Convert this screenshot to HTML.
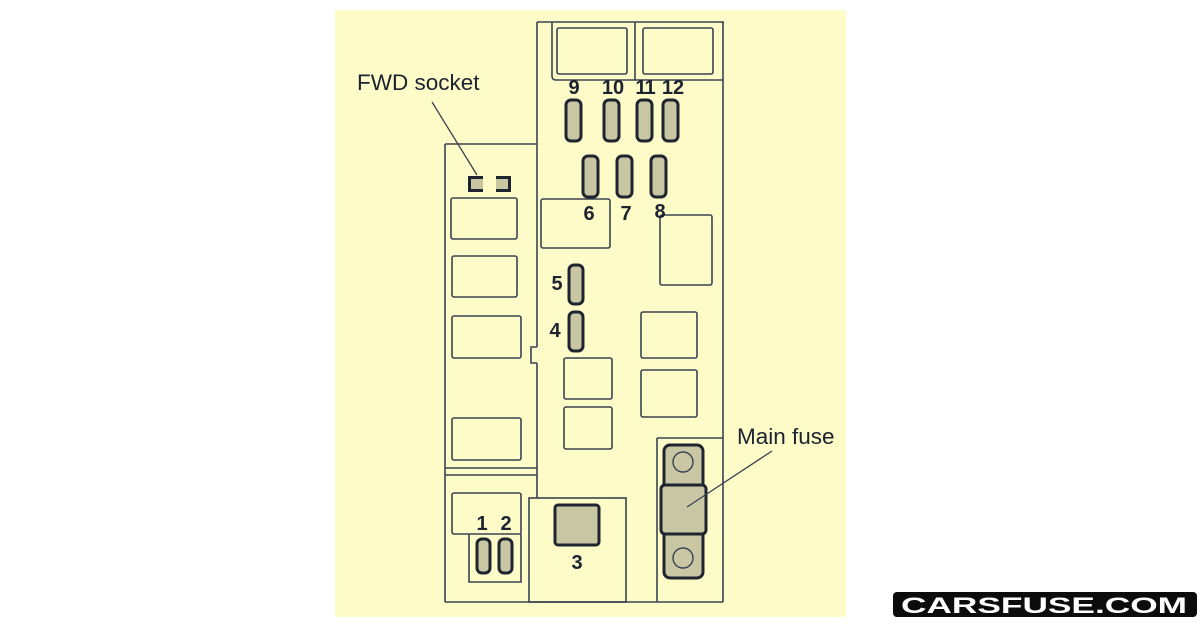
<!DOCTYPE html>
<html><head><meta charset="utf-8">
<style>
html,body{margin:0;padding:0;background:#fff;}
body{width:1200px;height:628px;overflow:hidden;position:relative;}
svg{position:absolute;left:0;top:0;}
</style></head>
<body>
<svg width="1200" height="628" viewBox="0 0 1200 628" xmlns="http://www.w3.org/2000/svg">
<rect x="335" y="10" width="511" height="607" fill="#fdfcc8"/>
<g fill="none" stroke="#3a4350" stroke-width="1.6">
  <!-- right main box -->
  <line x1="537" y1="22" x2="724" y2="22"/>
  <line x1="537" y1="22" x2="537" y2="347"/>
  <line x1="537" y1="363" x2="537" y2="498"/>
  <polyline points="537,347 531,347 531,363 537,363"/>
  <line x1="723" y1="22" x2="723" y2="602"/>
  <!-- top relay bracket -->
  <path d="M552,22 V76 Q552,80 556,80 H723"/>
  <line x1="635" y1="22" x2="635" y2="80"/>
  <rect x="557" y="28" width="70" height="46" rx="2"/>
  <rect x="643" y="28" width="70" height="46" rx="2"/>
  <!-- left box -->
  <line x1="445" y1="144" x2="537" y2="144"/>
  <line x1="445" y1="144" x2="445" y2="602"/>
  <rect x="451" y="198" width="66" height="41" rx="2"/>
  <rect x="452" y="256" width="65" height="41" rx="2"/>
  <rect x="452" y="316" width="69" height="42" rx="2"/>
  <rect x="452" y="418" width="69" height="42" rx="2"/>
  <line x1="445" y1="468" x2="537" y2="468"/>
  <line x1="445" y1="475" x2="537" y2="475"/>
  <!-- boxes center -->
  <rect x="541" y="199" width="69" height="49" rx="2"/>
  <rect x="660" y="215" width="52" height="70" rx="2"/>
  <rect x="564" y="358" width="48" height="41" rx="2"/>
  <rect x="564" y="407" width="48" height="42" rx="2"/>
  <rect x="641" y="312" width="56" height="46" rx="2"/>
  <rect x="641" y="370" width="56" height="47" rx="2"/>
  <!-- main fuse box -->
  <line x1="657" y1="438" x2="723" y2="438"/>
  <line x1="657" y1="438" x2="657" y2="602"/>
  <!-- bottom -->
  <line x1="445" y1="602" x2="723" y2="602"/>
  <rect x="529" y="498" width="97" height="104"/>
  <rect x="452" y="493" width="69" height="41" rx="2"/>
  <polyline points="469,534 469,582 521,582 521,534"/>
  <!-- FWD leader -->
  <line x1="432" y1="102" x2="477" y2="175" stroke-width="1.3"/>
</g>
<g fill="#c9c6a3" stroke="#1f2530" stroke-width="3">
  <rect x="566" y="100" width="15" height="41" rx="5"/>
  <rect x="604" y="100" width="15" height="41" rx="5"/>
  <rect x="637" y="100" width="15" height="41" rx="5"/>
  <rect x="663" y="100" width="15" height="41" rx="5"/>
  <rect x="583" y="156" width="15" height="41" rx="5"/>
  <rect x="617" y="156" width="15" height="41" rx="5"/>
  <rect x="651" y="156" width="15" height="41" rx="5"/>
  <rect x="569" y="265" width="14" height="39" rx="5"/>
  <rect x="569" y="312" width="14" height="39" rx="5"/>
  <rect x="477" y="539" width="13" height="34" rx="5"/>
  <rect x="499" y="539" width="13" height="34" rx="5"/>
  <rect x="555" y="505" width="44" height="40" rx="3"/>
  <rect x="664" y="445" width="39" height="133" rx="6"/>
  <rect x="661" y="485" width="45" height="49" rx="4"/>
</g>
<g fill="none" stroke="#3a4350" stroke-width="1.4">
  <circle cx="683" cy="462" r="10"/>
  <circle cx="683" cy="558" r="10"/>
  <line x1="772" y1="451" x2="687" y2="507" stroke-width="1.3"/>
</g>
<!-- FWD socket pieces -->
<rect x="469" y="177" width="14" height="14" fill="#c9c6a3"/>
<rect x="496" y="177" width="14" height="14" fill="#c9c6a3"/>
<g fill="none" stroke="#1f2530" stroke-width="3">
  <path d="M483,177.5 H469.5 V190.5 H483"/>
  <path d="M496,177.5 H509.5 V190.5 H496"/>
</g>
<g font-family="Liberation Sans, sans-serif" font-weight="bold" font-size="20" fill="#1c2230" text-anchor="middle">
  <text x="574" y="94">9</text>
  <text x="613" y="94">10</text>
  <text x="645" y="94" letter-spacing="-1">11</text>
  <text x="673" y="94">12</text>
  <text x="589" y="220">6</text>
  <text x="626" y="220">7</text>
  <text x="660" y="218">8</text>
  <text x="557" y="290">5</text>
  <text x="555" y="337">4</text>
  <text x="482" y="530">1</text>
  <text x="506" y="530">2</text>
  <text x="577" y="569">3</text>
</g>
<g font-family="Liberation Sans, sans-serif" font-size="22.5" fill="#1c2230">
  <text x="357" y="90">FWD socket</text>
  <text x="737" y="444">Main fuse</text>
</g>
<!-- logo -->
<rect x="893" y="592" width="304" height="25" rx="4" fill="#0c0c0c"/>
<text x="901" y="613" textLength="286" lengthAdjust="spacingAndGlyphs" font-family="Liberation Sans, sans-serif" font-weight="bold" font-size="22" fill="#ffffff">CARSFUSE.COM</text>
</svg>
</body></html>
